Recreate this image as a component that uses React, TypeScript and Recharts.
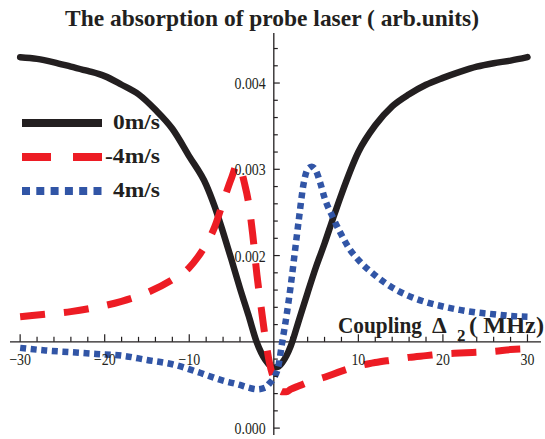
import React from 'react';
import { LineChart, Line, XAxis, YAxis, ReferenceLine, ReferenceDot, Legend } from 'recharts';

// Coupling detuning (MHz) and probe absorption (arb. units) for each atom velocity
const detuning0 = [-30, -28, -26, -24, -22, -20, -18, -16, -14, -12, -10, -8, -7, -6, -5, -4, -3, -2, -1, 0, 0.5, 1, 2, 3, 4, 5, 6, 7, 8, 10, 12, 14, 16, 18, 20, 22, 24, 26, 28, 30];
const absorption0 = [0.0043, 0.00428, 0.00424, 0.00419, 0.00414, 0.00408, 0.00398, 0.00387, 0.00369, 0.00347, 0.00315, 0.00282, 0.00257, 0.00227, 0.00195, 0.00162, 0.00131, 0.00099, 0.00079, 0.0007, 0.00071, 0.00076, 0.00095, 0.00126, 0.00157, 0.00187, 0.00214, 0.00243, 0.00271, 0.0032, 0.00351, 0.00373, 0.00387, 0.00398, 0.00406, 0.00413, 0.00419, 0.00423, 0.00426, 0.0043];

const detuningMinus4 = [-30, -27, -24, -21, -18, -15, -12, -10, -9, -8, -7, -6, -5, -4.3, -4, -3.5, -3, -2.5, -2, -1.5, -1, -0.5, 0, 0.5, 1, 1.5, 2, 3, 4, 6, 8, 10, 12, 14, 16, 18, 20, 22, 24, 26, 28, 30];
const absorptionMinus4 = [0.00129, 0.00132, 0.00135, 0.0014, 0.00147, 0.00157, 0.00172, 0.00186, 0.00198, 0.00213, 0.00233, 0.00262, 0.0029, 0.00306, 0.00303, 0.00285, 0.00262, 0.00225, 0.00178, 0.0014, 0.00104, 0.00075, 0.00057, 0.00046, 0.00042, 0.00042, 0.00045, 0.00049, 0.00053, 0.00059, 0.00066, 0.00072, 0.00076, 0.00079, 0.00082, 0.00084, 0.00086, 0.00087, 0.00088, 0.00089, 0.00091, 0.00092];

const detuningPlus4 = [-30, -27, -24, -21, -18, -15, -12, -9, -6, -4, -3, -2, -1, -0.5, 0, 0.5, 1, 1.5, 2, 2.5, 3, 3.5, 4, 4.5, 5, 5.5, 6, 7, 8, 9, 10, 12, 14, 16, 18, 20, 22, 24, 26, 28, 30];
const absorptionPlus4 = [0.00093, 0.0009, 0.00088, 0.00086, 0.00084, 0.00079, 0.00074, 0.00065, 0.00055, 0.0005, 0.00047, 0.00045, 0.00047, 0.00052, 0.00058, 0.0007, 0.001, 0.0013, 0.00165, 0.00205, 0.00245, 0.00282, 0.003, 0.00303, 0.00298, 0.00284, 0.00267, 0.00244, 0.00224, 0.00207, 0.00195, 0.00177, 0.00163, 0.00153, 0.00146, 0.00141, 0.00137, 0.00134, 0.00132, 0.0013, 0.00129];

const seriesNames = ['0m/s', '-4m/s', '4m/s'];

// Axis ticks
const xMajorTicks = [-30, -20, -10, 10, 20, 30];
const xTickLabels = ['\u221230', '\u221220', '\u221210', '10', '20', '30'];
const xMinorTicks = [-28, -26, -24, -22, -18, -16, -14, -12, -8, -6, -4, -2, 2, 4, 6, 8, 12, 14, 16, 18, 22, 24, 26, 28];
const yMajorTicks = [0, 0.002, 0.003, 0.004];
const yTickLabels = ['0.000', '0.002', '0.003', '0.004'];
const yMinorTicks = [0.0002, 0.0004, 0.0006, 0.0008, 0.0012, 0.0014, 0.0016, 0.0018, 0.0022, 0.0024, 0.0026, 0.0028, 0.0032, 0.0034, 0.0036, 0.0038, 0.0042, 0.0044];
const X_AXIS_AT = 0.001;
const Y_AXIS_AT = 0;

const toPoints = (xs: number[], ys: number[]) => xs.map((x, i) => ({ x, y: ys[i] }));
const data0 = toPoints(detuning0, absorption0);
const dataMinus4 = toPoints(detuningMinus4, absorptionMinus4);
const dataPlus4 = toPoints(detuningPlus4, absorptionPlus4);

const INK = '#231f20';
const RED = '#ed1c24';
const BLUE = '#3155a6';
const SERIF = "'Liberation Serif', 'Times New Roman', serif";

const legendLook: Record<string, { dash?: string; width: number; text: number }> = {
  '0m/s': { width: 8, text: 47 },
  '-4m/s': { dash: '29 22', width: 8, text: 55 },
  '4m/s': { dash: '8 6.3', width: 8, text: 47 },
};

const XTick = (props: any) => {
  const { cx, cy, len, label } = props;
  return (
    <g>
      <line x1={cx} y1={cy} x2={cx} y2={cy - len} stroke={INK} strokeWidth={1.2} />
      {label ? (
        <text transform={`translate(${cx},${cy + 23}) scale(0.82,1)`} textAnchor="middle" fontFamily={SERIF} fontSize={17} fill={INK}>
          {label}
        </text>
      ) : null}
    </g>
  );
};

const YTick = (props: any) => {
  const { cx, cy, len, label } = props;
  return (
    <g>
      <line x1={cx} y1={cy} x2={cx + len} y2={cy} stroke={INK} strokeWidth={1.2} />
      {label ? (
        <text transform={`translate(${cx - 8},${cy + 6}) scale(0.82,1)`} textAnchor="end" fontFamily={SERIF} fontSize={17} fill={INK}>
          {label}
        </text>
      ) : null}
    </g>
  );
};

const AxisTitle = (props: any) => {
  const vb = props.viewBox || {};
  const right = (vb.x || 0) + (vb.width || 0);
  const base = (vb.y || 0) - 9;
  return (
    <text fontFamily={SERIF} fontWeight="bold" fontSize={23.5} fill={INK}>
      <tspan x={right - 203} y={base} textLength={84} lengthAdjust="spacingAndGlyphs">Coupling</tspan>
      <tspan x={right - 109} y={base}>Δ</tspan>
      <tspan x={right - 84} y={base + 8} fontSize={17}>2</tspan>
      <tspan x={right - 72} y={base} textLength={75} lengthAdjust="spacingAndGlyphs">( MHz)</tspan>
    </text>
  );
};

const LegendBox = (props: any) => {
  const payload = [...(props.payload || [])].sort(
    (a: any, b: any) => seriesNames.indexOf(a.value) - seriesNames.indexOf(b.value)
  );
  return (
    <svg width={170} height={90} style={{ display: 'block', overflow: 'visible' }}>
      {payload.map((entry: any, i: number) => {
        const look = legendLook[entry.value] || { width: 8, text: 47 };
        const cy = 15 + 34 * i;
        return (
          <g key={entry.value}>
            <line x1={22} y1={cy} x2={102} y2={cy} stroke={entry.color} strokeWidth={look.width} strokeDasharray={look.dash} />
            <text x={160} y={cy + 6} textAnchor="end" fontFamily={SERIF} fontWeight="bold" fontSize={20} fill={INK} textLength={look.text} lengthAdjust="spacingAndGlyphs">
              {entry.value}
            </text>
          </g>
        );
      })}
    </svg>
  );
};

export default function App() {
  return (
    <div style={{ position: 'relative', width: 545, height: 439, background: '#fff' }}>
      <style>{`body{margin:0;background:#fff}`}</style>
      <LineChart width={545} height={439} margin={{ top: 33, right: 4, bottom: 4, left: 10 }}>
        <XAxis type="number" dataKey="x" domain={[-31.2, 31.6]} allowDataOverflow hide />
        <YAxis type="number" dataKey="y" domain={[-0.00008, 0.00458]} allowDataOverflow hide />
        <ReferenceLine x={Y_AXIS_AT} stroke={INK} strokeWidth={1.3} />
        <ReferenceLine y={X_AXIS_AT} stroke={INK} strokeWidth={1.3} label={(p: any) => <AxisTitle {...p} />} />
        {xMajorTicks.map((t, i) => (
          <ReferenceDot key={`xM${t}`} x={t} y={X_AXIS_AT} r={0} shape={(p: any) => <XTick {...p} len={7.5} label={xTickLabels[i]} />} />
        ))}
        {xMinorTicks.map((t) => (
          <ReferenceDot key={`xm${t}`} x={t} y={X_AXIS_AT} r={0} shape={(p: any) => <XTick {...p} len={5} />} />
        ))}
        {yMajorTicks.map((t, i) => (
          <ReferenceDot key={`yM${t}`} x={Y_AXIS_AT} y={t} r={0} shape={(p: any) => <YTick {...p} len={6} label={yTickLabels[i]} />} />
        ))}
        {yMinorTicks.map((t) => (
          <ReferenceDot key={`ym${t}`} x={Y_AXIS_AT} y={t} r={0} shape={(p: any) => <YTick {...p} len={4} />} />
        ))}
        <Line data={data0} dataKey="y" name={seriesNames[0]} type="monotone" stroke={INK} strokeWidth={6.5} strokeLinecap="round" dot={false} activeDot={false} isAnimationActive={false} />
        <Line data={dataMinus4} dataKey="y" name={seriesNames[1]} type="monotone" stroke={RED} strokeWidth={7} strokeDasharray="25 19" dot={false} activeDot={false} isAnimationActive={false} />
        <Line data={dataPlus4} dataKey="y" name={seriesNames[2]} type="monotone" stroke={BLUE} strokeWidth={6.5} strokeDasharray="6 4.6" dot={false} activeDot={false} isAnimationActive={false} />
        <Legend
          layout="horizontal"
          verticalAlign="middle"
          align="center"
          wrapperStyle={{ position: 'absolute', left: 0, top: 108, width: 170, height: 90 }}
          content={(p: any) => <LegendBox {...p} />}
        />
      </LineChart>
      <svg width={545} height={40} style={{ position: 'absolute', left: 0, top: 0, pointerEvents: 'none' }}>
        <text x={272} y={26} textAnchor="middle" fontFamily={SERIF} fontWeight="bold" fontSize={23.5} fill={INK} textLength={414} lengthAdjust="spacingAndGlyphs">
          The absorption of probe laser ( arb.units)
        </text>
      </svg>
    </div>
  );
}
